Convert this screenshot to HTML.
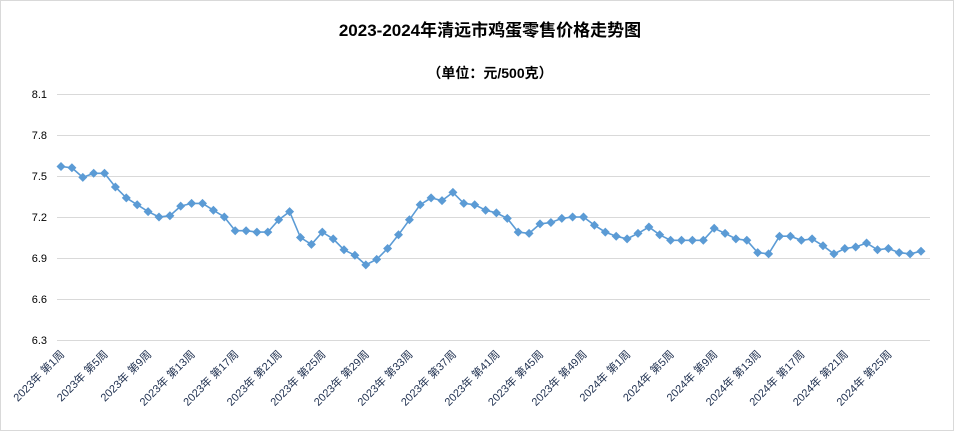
<!DOCTYPE html>
<html><head><meta charset="utf-8"><style>
html,body{margin:0;padding:0;background:#fff;}
svg{display:block;font-family:"Liberation Sans","Noto Sans CJK SC",sans-serif;}
</style></head><body>
<svg width="954" height="431" viewBox="0 0 954 431" xmlns="http://www.w3.org/2000/svg">
<defs>
<marker id="d" markerUnits="userSpaceOnUse" markerWidth="10" markerHeight="10" refX="5" refY="5" viewBox="0 0 10 10"><path d="M5 0.5 L9.5 5 L5 9.5 L0.5 5Z" fill="#5b9bd5"/></marker>
</defs>
<rect x="0.5" y="0.5" width="953" height="430" fill="#fff" stroke="#d9d9d9"/>
<text x="490" y="36" text-anchor="middle" font-size="17" font-weight="bold" fill="#000">2023-2024年清远市鸡蛋零售价格走势图</text>
<text x="490" y="78" text-anchor="middle" font-size="14" font-weight="bold" fill="#000">（单位：元/500克）</text>
<g stroke="#d9d9d9" stroke-width="1">
<line x1="57" x2="930" y1="94.5" y2="94.5"/>
<line x1="57" x2="930" y1="135.5" y2="135.5"/>
<line x1="57" x2="930" y1="176.5" y2="176.5"/>
<line x1="57" x2="930" y1="217.5" y2="217.5"/>
<line x1="57" x2="930" y1="258.5" y2="258.5"/>
<line x1="57" x2="930" y1="299.5" y2="299.5"/>
<line x1="57" x2="930" y1="340.5" y2="340.5"/>
</g>
<g font-size="11" fill="#000" text-anchor="end">
<text x="47" y="98">8.1</text>
<text x="47" y="139">7.8</text>
<text x="47" y="180">7.5</text>
<text x="47" y="221">7.2</text>
<text x="47" y="262">6.9</text>
<text x="47" y="303">6.6</text>
<text x="47" y="344">6.3</text>
</g>
<polyline fill="none" stroke="#5b9bd5" stroke-width="1.6" marker-start="url(#d)" marker-mid="url(#d)" marker-end="url(#d)" points="61.0,166.5 71.9,167.8 82.8,177.4 93.7,173.3 104.5,173.3 115.4,187.0 126.3,197.9 137.2,204.7 148.1,211.6 159.0,217.0 169.9,215.7 180.7,206.1 191.6,203.4 202.5,203.4 213.4,210.2 224.3,217.0 235.2,230.7 246.1,230.7 256.9,232.1 267.8,232.1 278.7,219.8 289.6,211.6 300.5,237.5 311.4,244.4 322.3,232.1 333.2,238.9 344.0,249.8 354.9,255.3 365.8,264.9 376.7,259.4 387.6,248.5 398.5,234.8 409.4,219.8 420.2,204.7 431.1,197.9 442.0,200.6 452.9,192.4 463.8,203.4 474.7,204.7 485.6,210.2 496.4,212.9 507.3,218.4 518.2,232.1 529.1,233.4 540.0,223.9 550.9,222.5 561.8,218.4 572.6,217.0 583.5,217.0 594.4,225.2 605.3,232.1 616.2,236.2 627.1,238.9 638.0,233.4 648.9,227.0 659.7,234.8 670.6,240.3 681.5,240.3 692.4,240.3 703.3,240.3 714.2,228.3 725.1,233.4 735.9,238.9 746.8,240.3 757.7,252.6 768.6,253.9 779.5,236.2 790.4,236.2 801.3,240.3 812.1,238.9 823.0,245.7 833.9,253.9 844.8,248.5 855.7,247.0 866.6,243.0 877.5,249.8 888.4,248.5 899.2,252.6 910.1,253.9 921.0,251.2"/>
<g font-size="11" fill="#1f3050" text-anchor="end">
<text transform="translate(65,355) rotate(-45)">2023年 第1周</text>
<text transform="translate(108.5,355) rotate(-45)">2023年 第5周</text>
<text transform="translate(152.1,355) rotate(-45)">2023年 第9周</text>
<text transform="translate(195.6,355) rotate(-45)">2023年 第13周</text>
<text transform="translate(239.2,355) rotate(-45)">2023年 第17周</text>
<text transform="translate(282.7,355) rotate(-45)">2023年 第21周</text>
<text transform="translate(326.3,355) rotate(-45)">2023年 第25周</text>
<text transform="translate(369.8,355) rotate(-45)">2023年 第29周</text>
<text transform="translate(413.4,355) rotate(-45)">2023年 第33周</text>
<text transform="translate(456.9,355) rotate(-45)">2023年 第37周</text>
<text transform="translate(500.4,355) rotate(-45)">2023年 第41周</text>
<text transform="translate(544.0,355) rotate(-45)">2023年 第45周</text>
<text transform="translate(587.5,355) rotate(-45)">2023年 第49周</text>
<text transform="translate(631.1,355) rotate(-45)">2024年 第1周</text>
<text transform="translate(674.6,355) rotate(-45)">2024年 第5周</text>
<text transform="translate(718.2,355) rotate(-45)">2024年 第9周</text>
<text transform="translate(761.7,355) rotate(-45)">2024年 第13周</text>
<text transform="translate(805.3,355) rotate(-45)">2024年 第17周</text>
<text transform="translate(848.8,355) rotate(-45)">2024年 第21周</text>
<text transform="translate(892.4,355) rotate(-45)">2024年 第25周</text>
</g>
</svg>
</body></html>
